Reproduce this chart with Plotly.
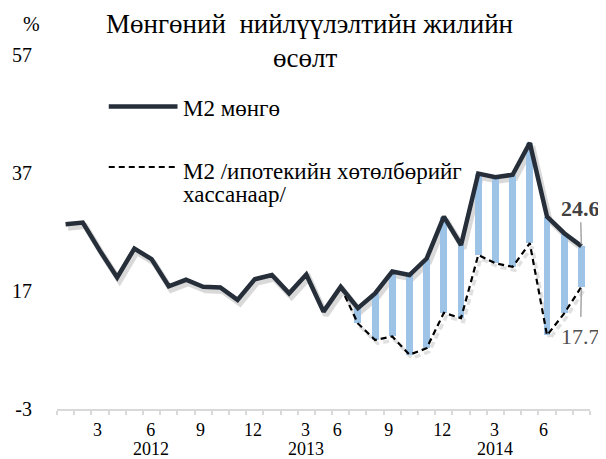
import plotly.graph_objects as go

# ---------------- data ----------------
months = [f"{y}-{m:02d}" for y in (2012, 2013, 2014) for m in range(1, 13)][:31]
m2 = [28.3, 28.6, 23.8, 19.3, 24.2, 22.4, 17.8, 18.9, 17.7, 17.6, 15.5, 19.0, 19.7,
      16.6, 19.8, 13.5, 17.7, 14.1, 16.6, 20.3, 19.7, 22.5, 29.6, 24.8, 36.9, 36.3,
      36.7, 42.1, 29.6, 26.8, 24.6]
m2_ex_mortgage = [None] * 16 + [17.7, 11.5, 8.7, 9.3, 6.2, 7.3, 13.3, 12.4, 23.1, 21.7,
                                21.1, 25.1, 9.5, 13.2, 17.7]
month_tick_labels = ["3", "6", "9", "12", "3", "6", "9", "12", "3", "6"]
year_labels = ["2012", "2013", "2014"]
y_ticks = [-3, 17, 37, 57]
y_tick_labels = ["-3", "17", "37", "57"]

title_line1 = "Мөнгөний \u00a0нийлүүлэлтийн жилийн"
title_line2 = "өсөлт"
legend_m2 = "M2 мөнгө"
legend_ex1 = "M2 /ипотекийн хөтөлбөрийг"
legend_ex2 = "хассанаар/"

# ---------------- layout geometry (page pixels; page body has an 8px margin) ----------------
OFF = 8
FW, FH = 598, 451
PLOT_X0, PLOT_X1 = 47.3, 590.0      # page px
PLOT_Y0, PLOT_Y1 = 12.0, 409.0      # page px
L = PLOT_X0 - OFF
R = FW - (PLOT_X1 - OFF)
T = PLOT_Y0 - OFF
B = FH - (PLOT_Y1 - OFF)
PW = PLOT_X1 - PLOT_X0
PH = PLOT_Y1 - PLOT_Y0

x_idx = list(range(len(months)))
XR = [-0.5, len(months) - 0.5]
PX_PER_Y = 5.9
YR = [-3, -3 + PH / PX_PER_Y]
PX_PER_X = PW / (XR[1] - XR[0])
month_tick_pos = [1.85, 4.95, 7.85, 10.9, 13.95, 15.8, 18.8, 21.9, 24.95, 27.8]
year_pos = [4.97, 14.0, 24.97]

FONT = "Liberation Serif, Times New Roman, serif"
LINE_C = "#262E3A"
BAR_C = "#9DC3E6"
AXIS_C = "#D9D9D9"


def px(xp):
    return (xp - PLOT_X0) / PW


def py(yp):
    return (PLOT_Y1 - yp) / PH


fig = go.Figure()

# soft shadows (invisible primary axes, shifted by a few pixels)
sdx, sdy = 2.5, 3.5
fig.add_trace(go.Scatter(x=x_idx, y=m2, mode="lines",
                         line=dict(color="rgba(0,0,0,0.15)", width=6),
                         hoverinfo="skip", showlegend=False, xaxis="x", yaxis="y"))
fig.add_trace(go.Scatter(x=x_idx, y=m2_ex_mortgage, mode="lines",
                         line=dict(color="rgba(0,0,0,0.12)", width=3.5, dash="6px,4px"),
                         hoverinfo="skip", showlegend=False, xaxis="x", yaxis="y"))

# floating bars between the two series
bx, bbase, bh = [], [], []
for i, (a, b) in enumerate(zip(m2, m2_ex_mortgage)):
    if b is not None:
        bx.append(x_idx[i])
        bbase.append(b)
        bh.append(a - b)
fig.add_trace(go.Bar(x=bx, y=bh, base=bbase, width=0.4,
                     marker=dict(color=BAR_C, line=dict(width=0)),
                     showlegend=False, xaxis="x2", yaxis="y2"))

fig.add_trace(go.Scatter(x=x_idx, y=m2_ex_mortgage, mode="lines",
                         name=legend_ex1 + " " + legend_ex2,
                         line=dict(color="black", width=2.2, dash="6px,4px"),
                         showlegend=False, xaxis="x2", yaxis="y2"))
fig.add_trace(go.Scatter(x=x_idx, y=m2, mode="lines", name=legend_m2,
                         line=dict(color=LINE_C, width=4.5),
                         showlegend=False, xaxis="x2", yaxis="y2"))


def text_at(text, xp, yp, size, xanchor="center", color="black"):
    return dict(text=text, x=px(xp), y=py(yp), xref="paper", yref="paper",
                xanchor=xanchor, yanchor="middle", showarrow=False,
                font=dict(family=FONT, size=size, color=color))


annotations = [
    text_at(title_line1, 304, 24.5, 27),
    text_at(title_line2, 300, 57.5, 27),
    text_at("%", 21, 24.5, 20),
    text_at(legend_m2, 174, 108.5, 23, xanchor="left"),
    text_at(legend_ex1, 174, 171, 23, xanchor="left"),
    text_at(legend_ex2, 174, 194, 23, xanchor="left"),
]
for yl, xp in zip(year_labels, year_pos):
    annotations.append(dict(text=yl, x=xp, y=py(449), xref="x2", yref="paper",
                            xanchor="center", yanchor="middle", showarrow=False,
                            font=dict(family=FONT, size=18, color="black")))
# value labels with leader lines
annotations.append(dict(text=f"<b>{m2[-1]}</b>", x=x_idx[-1], y=m2[-1], xref="x2", yref="y2",
                        ax=-1, ay=-38, showarrow=True, arrowhead=0, arrowwidth=1.5,
                        arrowcolor="#A6A6A6", standoff=2,
                        font=dict(family=FONT, size=22, color="#404040")))
annotations.append(dict(text=f"{m2_ex_mortgage[-1]}", x=x_idx[-1], y=m2_ex_mortgage[-1],
                        xref="x2", yref="y2",
                        ax=-1, ay=50, showarrow=True, arrowhead=0, arrowwidth=1.5,
                        arrowcolor="#A6A6A6", standoff=2, startstandoff=6,
                        font=dict(family=FONT, size=22, color="#505050")))

# legend keys
shapes = [
    dict(type="line", xref="paper", yref="paper", x0=px(100), x1=px(170),
         y0=py(106.5), y1=py(106.5), line=dict(color=LINE_C, width=4.5)),
    dict(type="line", xref="paper", yref="paper", x0=px(100), x1=px(168),
         y0=py(167), y1=py(167), line=dict(color="black", width=2.2, dash="6px,4px")),
]

fig.update_layout(
    width=FW, height=FH, margin=dict(l=L, r=R, t=T, b=B, pad=0),
    paper_bgcolor="white", plot_bgcolor="white",
    showlegend=False, bargap=0,
    font=dict(family=FONT, color="black"),
    xaxis=dict(range=[XR[0] - sdx / PX_PER_X, XR[1] - sdx / PX_PER_X], visible=False,
               fixedrange=True),
    yaxis=dict(range=[YR[0] + sdy / PX_PER_Y, YR[1] + sdy / PX_PER_Y], visible=False,
               fixedrange=True),
    xaxis2=dict(range=XR, overlaying="x", side="bottom", showgrid=False, zeroline=False,
                showline=True, linecolor=AXIS_C, linewidth=2,
                tickmode="array", tickvals=month_tick_pos, ticktext=month_tick_labels,
                ticks="", ticklabelstandoff=3,
                tickfont=dict(family=FONT, size=18, color="black"),
                minor=dict(tickmode="linear", tick0=-0.5, dtick=1, ticks="outside",
                           ticklen=4, tickwidth=2, tickcolor=AXIS_C, showgrid=False)),
    yaxis2=dict(range=YR, overlaying="y", side="left", showgrid=False, zeroline=False,
                showline=False, tickmode="array", tickvals=y_ticks, ticktext=y_tick_labels,
                ticks="", ticklabelstandoff=24,
                tickfont=dict(family=FONT, size=20, color="black")),
    annotations=annotations, shapes=shapes,
)

fig.write_html("out.html")
